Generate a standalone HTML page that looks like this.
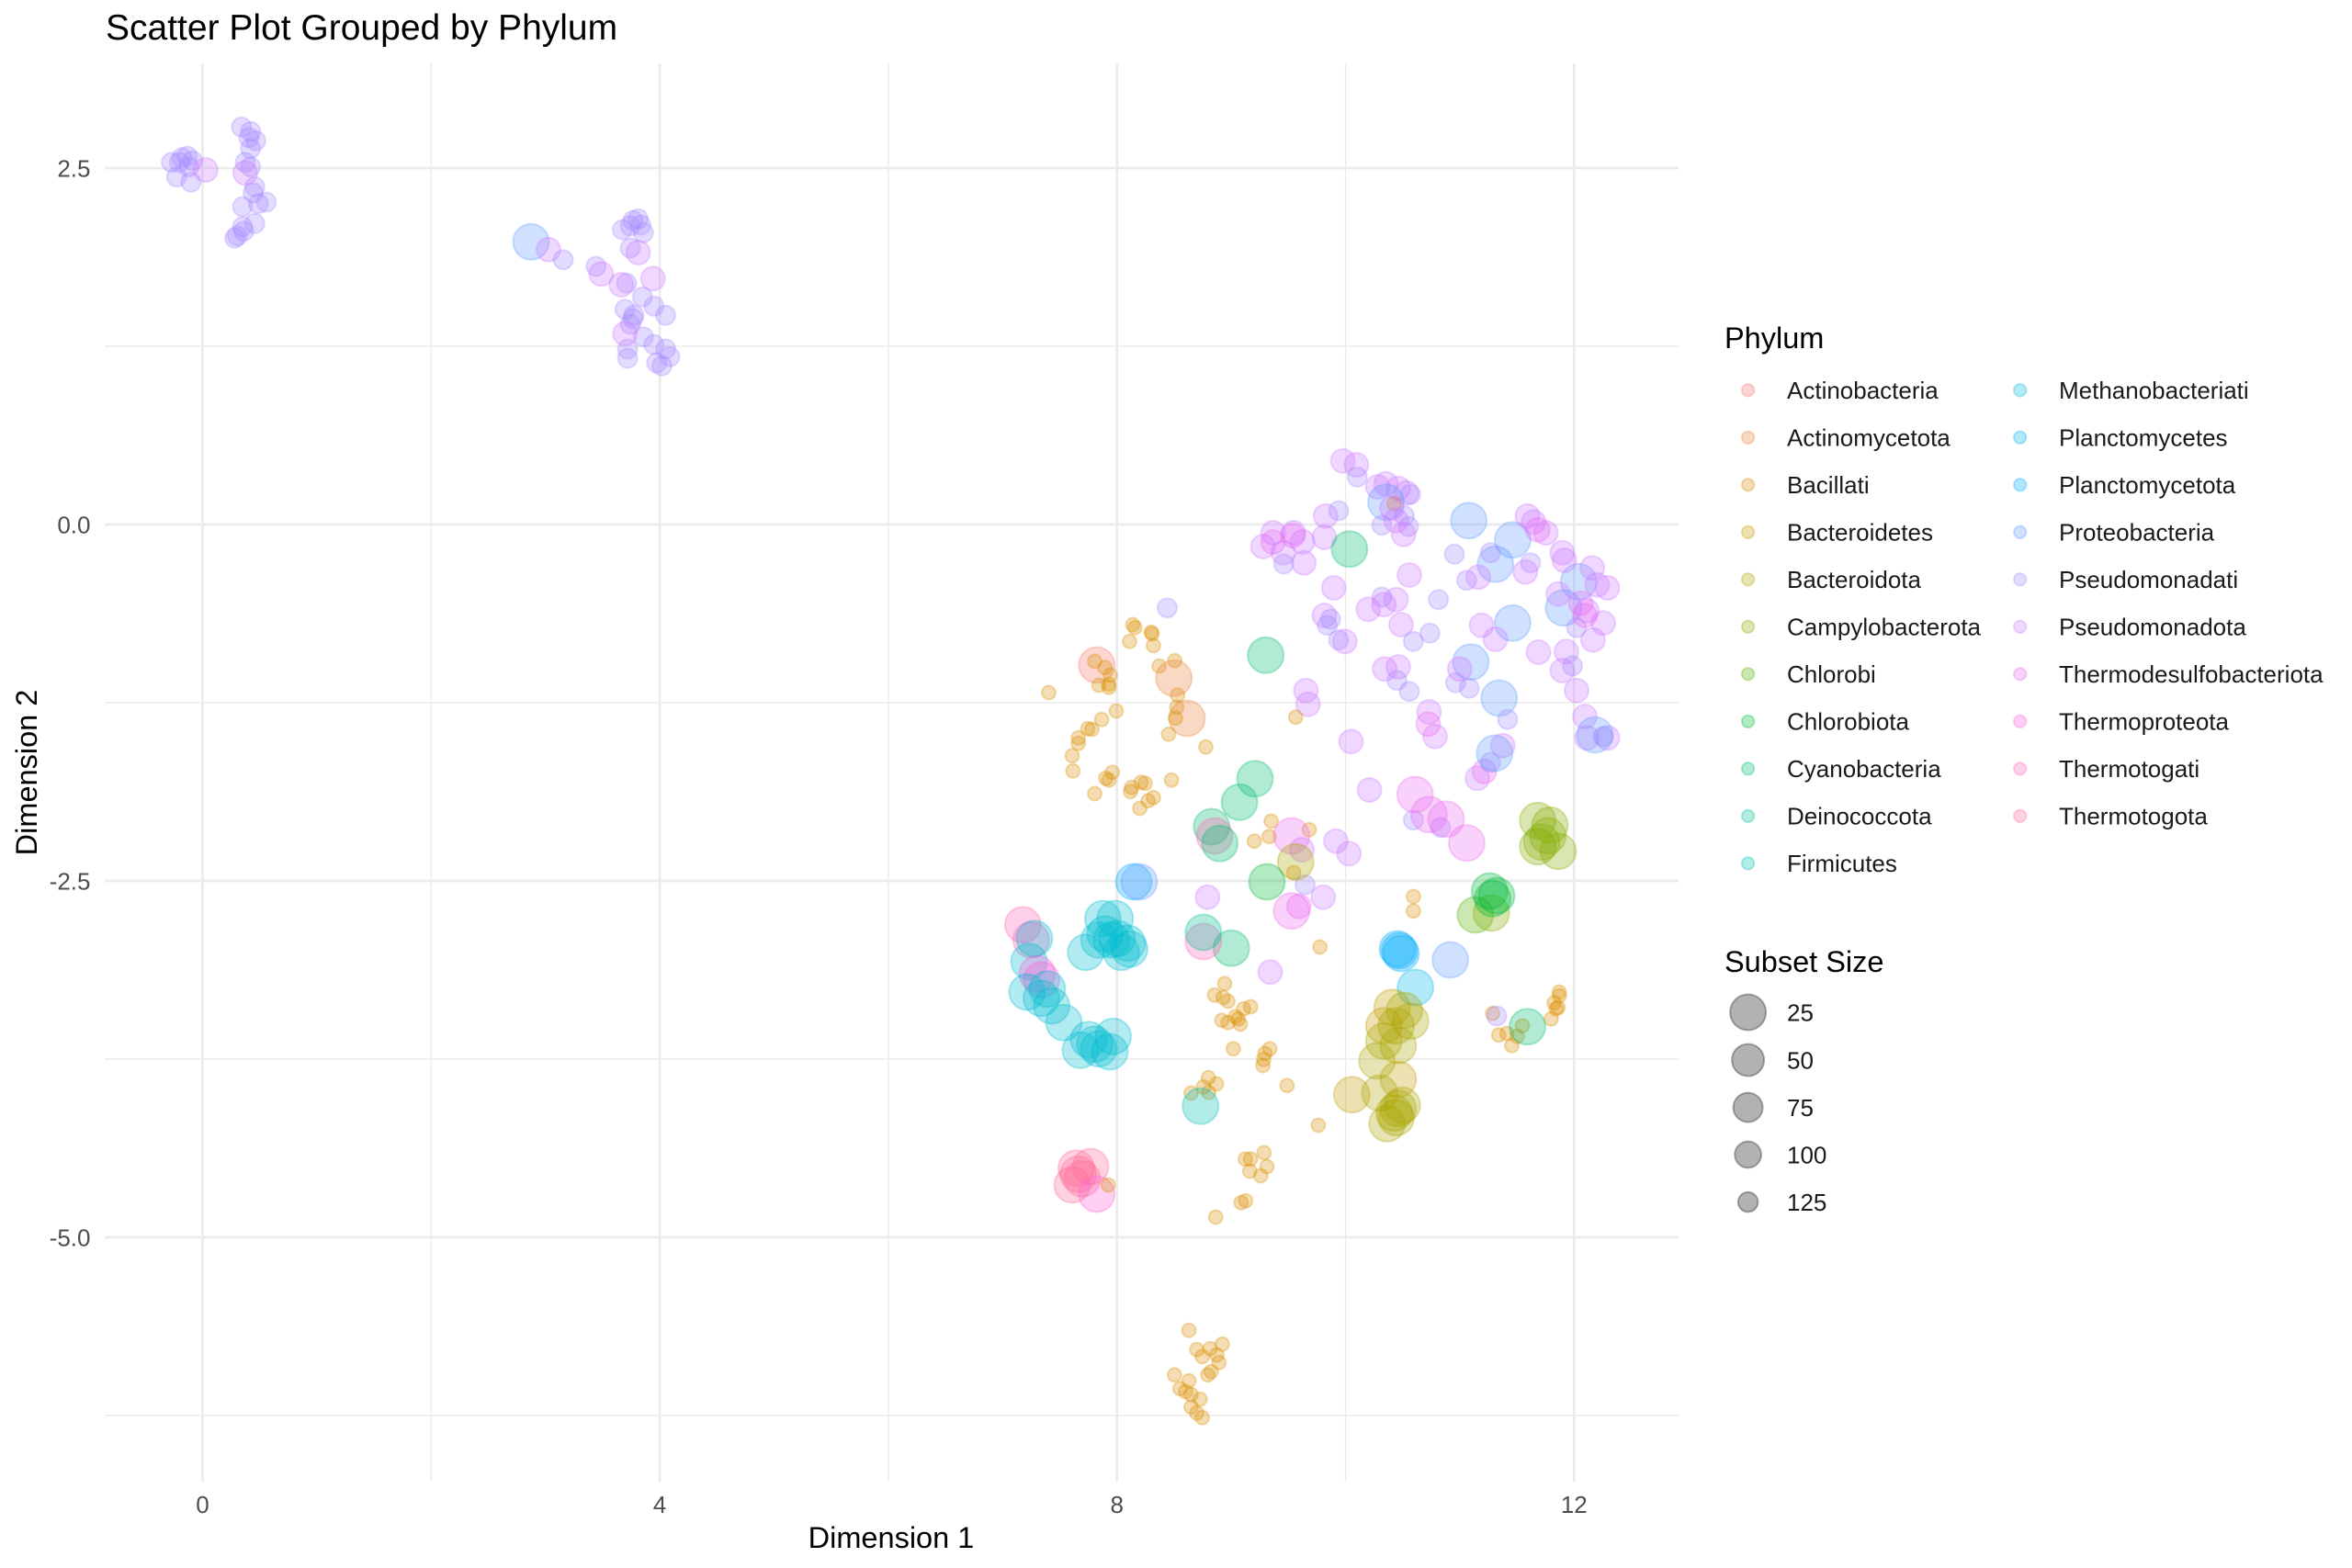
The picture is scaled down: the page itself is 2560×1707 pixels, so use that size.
<!DOCTYPE html>
<html><head><meta charset="utf-8"><style>
html,body{margin:0;padding:0;background:#fff;}
svg{display:block;font-family:"Liberation Sans",Arial,sans-serif;}
circle{fill-opacity:.3;stroke-opacity:.3;stroke-width:2}
.a{fill:#F8766D;stroke:#F8766D}.b{fill:#EC8239;stroke:#EC8239}.c{fill:#DB8E00;stroke:#DB8E00}
.d{fill:#C49A00;stroke:#C49A00}.e{fill:#A9A400;stroke:#A9A400}.f{fill:#86AC00;stroke:#86AC00}
.g{fill:#53B400;stroke:#53B400}.h{fill:#00BA38;stroke:#00BA38}.i{fill:#00BE6C;stroke:#00BE6C}
.j{fill:#00C094;stroke:#00C094}.k{fill:#00C0B5;stroke:#00C0B5}.l{fill:#00BDD2;stroke:#00BDD2}
.m{fill:#00B6EB;stroke:#00B6EB}.n{fill:#00ABFD;stroke:#00ABFD}.o{fill:#619CFF;stroke:#619CFF}
.p{fill:#A58AFF;stroke:#A58AFF}.q{fill:#CD79FF;stroke:#CD79FF}.r{fill:#EA6AF1;stroke:#EA6AF1}
.s{fill:#FB61D7;stroke:#FB61D7}.t{fill:#FF63BA;stroke:#FF63BA}.u{fill:#FF6A98;stroke:#FF6A98}
.z{fill:#000;stroke:#000}
.tk{font-size:26px;fill:#4D4D4D}
.lg{font-size:26px;fill:#1A1A1A}
</style></head><body>
<svg width="2560" height="1707" viewBox="0 0 2560 1707" xmlns="http://www.w3.org/2000/svg">
<rect x="0" y="0" width="2560" height="1707" fill="#fff"/>
<!-- minor grid -->
<g stroke="#EBEBEB" stroke-width="1.4">
<line x1="114" x2="1827" y1="377" y2="377"/>
<line x1="114" x2="1827" y1="765" y2="765"/>
<line x1="114" x2="1827" y1="1153" y2="1153"/>
<line x1="114" x2="1827" y1="1541" y2="1541"/>
<line x1="469.3" x2="469.3" y1="69" y2="1613"/>
<line x1="966.9" x2="966.9" y1="69" y2="1613"/>
<line x1="1464.5" x2="1464.5" y1="69" y2="1613"/>
</g>
<!-- major grid -->
<g stroke="#EBEBEB" stroke-width="2.7">
<line x1="114" x2="1827" y1="183" y2="183"/>
<line x1="114" x2="1827" y1="571" y2="571"/>
<line x1="114" x2="1827" y1="959" y2="959"/>
<line x1="114" x2="1827" y1="1347" y2="1347"/>
<line x1="220.5" x2="220.5" y1="69" y2="1613"/>
<line x1="718.1" x2="718.1" y1="69" y2="1613"/>
<line x1="1215.7" x2="1215.7" y1="69" y2="1613"/>
<line x1="1713.3" x2="1713.3" y1="69" y2="1613"/>
</g>
<!-- points -->
<g>
<!-- top-left cluster -->
<circle class="p" cx="198" cy="171.7" r="10.5"/><circle class="p" cx="203.8" cy="170" r="10.5"/><circle class="p" cx="195.2" cy="176.7" r="10.5"/><circle class="p" cx="209.5" cy="175" r="10.5"/><circle class="p" cx="205.5" cy="181.7" r="10.5"/><circle class="p" cx="192.3" cy="192.7" r="10.5"/><circle class="p" cx="207.8" cy="198.3" r="10.5"/><circle class="p" cx="186.6" cy="176.7" r="10.5"/>
<circle class="q" cx="223.9" cy="185" r="13"/>
<circle class="p" cx="262.9" cy="138.3" r="10.5"/><circle class="p" cx="272.7" cy="143.3" r="10.5"/><circle class="p" cx="271" cy="150" r="10.5"/><circle class="p" cx="278.4" cy="153.3" r="10.5"/><circle class="p" cx="272.7" cy="161.7" r="10.5"/><circle class="p" cx="266.9" cy="176.7" r="10.5"/><circle class="p" cx="272.7" cy="181.7" r="10.5"/><circle class="p" cx="277.3" cy="203.3" r="10.5"/><circle class="p" cx="275.5" cy="210" r="10.5"/><circle class="p" cx="281.3" cy="221.7" r="10.5"/><circle class="p" cx="289.9" cy="220" r="10.5"/><circle class="p" cx="264" cy="225" r="10.5"/><circle class="p" cx="277.3" cy="243.3" r="10.5"/><circle class="p" cx="264" cy="246.7" r="10.5"/><circle class="p" cx="258.3" cy="256.7" r="10.5"/><circle class="p" cx="265.2" cy="251.7" r="10.5"/><circle class="p" cx="255.5" cy="259.3" r="10.5"/>
<circle class="q" cx="266.9" cy="188.3" r="13"/>
<!-- second cluster -->
<circle class="o" cx="578" cy="263.3" r="19.5"/>
<circle class="q" cx="597" cy="271.7" r="13"/>
<circle class="p" cx="613" cy="282.7" r="10.5"/><circle class="p" cx="648.7" cy="290" r="10.5"/><circle class="p" cx="682" cy="308.3" r="10.5"/><circle class="p" cx="688.9" cy="240" r="10.5"/><circle class="p" cx="694.6" cy="238.3" r="10.5"/><circle class="p" cx="697.5" cy="245" r="10.5"/><circle class="p" cx="677.4" cy="250" r="10.5"/><circle class="p" cx="700.3" cy="253.3" r="10.5"/><circle class="p" cx="686" cy="246" r="10.5"/><circle class="p" cx="686" cy="270" r="10.5"/><circle class="p" cx="699.2" cy="323.3" r="10.5"/><circle class="p" cx="711.8" cy="333.3" r="10.5"/><circle class="p" cx="724.5" cy="343.3" r="10.5"/><circle class="p" cx="680.3" cy="336.7" r="10.5"/><circle class="p" cx="688.9" cy="346.7" r="10.5"/><circle class="p" cx="686" cy="353" r="10.5"/><circle class="p" cx="690" cy="343" r="10.5"/><circle class="p" cx="700.3" cy="366.7" r="10.5"/><circle class="p" cx="711.8" cy="375" r="10.5"/><circle class="p" cx="724.5" cy="380" r="10.5"/><circle class="p" cx="729" cy="388.3" r="10.5"/><circle class="p" cx="714.7" cy="395" r="10.5"/><circle class="p" cx="720.4" cy="398.3" r="10.5"/><circle class="p" cx="683.1" cy="380" r="10.5"/><circle class="p" cx="683.1" cy="390" r="10.5"/>
<circle class="q" cx="654.4" cy="298.3" r="13"/><circle class="q" cx="676.2" cy="310" r="13"/><circle class="q" cx="694.6" cy="275" r="13"/><circle class="q" cx="710.7" cy="303.3" r="13"/><circle class="q" cx="680.3" cy="363.3" r="13"/>
<!-- upper right cluster -->
<circle class="q" cx="1461.6" cy="501.7" r="13"/><circle class="q" cx="1476.3" cy="506" r="13"/><circle class="p" cx="1477.2" cy="519.3" r="10.5"/><circle class="q" cx="1499.6" cy="530" r="13"/><circle class="q" cx="1508.5" cy="526.7" r="13"/><circle class="q" cx="1521.9" cy="531.7" r="13"/><circle class="q" cx="1530.8" cy="536.7" r="13"/><circle class="p" cx="1535.3" cy="538.3" r="10.5"/>
<circle class="o" cx="1508.5" cy="546.7" r="19.5"/><circle class="c" cx="1517.4" cy="548.3" r="7.5"/>
<circle class="p" cx="1528.6" cy="561.7" r="10.5"/><circle class="p" cx="1504" cy="571.7" r="10.5"/><circle class="p" cx="1533" cy="573.3" r="10.5"/><circle class="q" cx="1527.7" cy="581.7" r="13"/><circle class="q" cx="1519.6" cy="566.7" r="13"/><circle class="q" cx="1515" cy="553" r="13"/>
<circle class="q" cx="1442.9" cy="561.7" r="13"/><circle class="p" cx="1457.1" cy="556" r="10.5"/><circle class="q" cx="1441.5" cy="585" r="13"/><circle class="q" cx="1385.7" cy="580" r="13"/><circle class="q" cx="1374.6" cy="595" r="13"/><circle class="r" cx="1385.7" cy="590" r="13"/><circle class="q" cx="1408" cy="580" r="13"/><circle class="q" cx="1417.9" cy="590" r="13"/><circle class="q" cx="1396.9" cy="601.7" r="13"/><circle class="q" cx="1419.2" cy="612.7" r="13"/><circle class="p" cx="1397.3" cy="614" r="10.5"/><circle class="r" cx="1407" cy="583" r="13"/>
<circle class="i" cx="1468.8" cy="597.7" r="19.5"/>
<circle class="o" cx="1598.7" cy="566.7" r="19.5"/><circle class="o" cx="1646.4" cy="587.7" r="19.5"/><circle class="o" cx="1627.7" cy="614.3" r="19.5"/><circle class="o" cx="1718.3" cy="633.3" r="19.5"/><circle class="o" cx="1701.8" cy="661.7" r="19.5"/><circle class="o" cx="1646.4" cy="678.3" r="19.5"/><circle class="o" cx="1600.9" cy="720.7" r="19.5"/><circle class="o" cx="1631.7" cy="760" r="19.5"/>
<circle class="q" cx="1662.5" cy="561.7" r="13"/><circle class="q" cx="1669.2" cy="568.3" r="13"/><circle class="q" cx="1682.6" cy="580" r="13"/><circle class="r" cx="1673.7" cy="576.7" r="13"/><circle class="q" cx="1700.4" cy="601.7" r="13"/><circle class="q" cx="1702.7" cy="610" r="13"/><circle class="p" cx="1666" cy="612.7" r="10.5"/><circle class="q" cx="1660.3" cy="622.7" r="13"/><circle class="q" cx="1733" cy="618.3" r="13"/><circle class="q" cx="1749.6" cy="640" r="13"/><circle class="q" cx="1738.4" cy="636.7" r="13"/><circle class="q" cx="1696" cy="646.7" r="13"/><circle class="r" cx="1720.5" cy="656.7" r="13"/><circle class="q" cx="1727.2" cy="665" r="13"/><circle class="q" cx="1745" cy="678.3" r="13"/><circle class="q" cx="1733.9" cy="696.7" r="13"/><circle class="p" cx="1716" cy="683.3" r="10.5"/><circle class="r" cx="1725" cy="670" r="13"/>
<circle class="p" cx="1596.4" cy="631.7" r="10.5"/><circle class="q" cx="1609" cy="628.3" r="13"/><circle class="p" cx="1622.3" cy="601.7" r="10.5"/><circle class="p" cx="1583" cy="603.3" r="10.5"/><circle class="q" cx="1534" cy="626" r="13"/><circle class="q" cx="1451.8" cy="640" r="13"/><circle class="p" cx="1565.6" cy="652.7" r="10.5"/><circle class="q" cx="1519.6" cy="652.7" r="13"/><circle class="p" cx="1504" cy="650" r="10.5"/><circle class="q" cx="1506.3" cy="658.3" r="13"/><circle class="q" cx="1489.3" cy="663.3" r="13"/><circle class="q" cx="1525" cy="680" r="13"/><circle class="p" cx="1556.3" cy="689.3" r="10.5"/><circle class="p" cx="1538.4" cy="698.3" r="10.5"/><circle class="q" cx="1441.5" cy="670" r="13"/><circle class="p" cx="1448.2" cy="674" r="10.5"/><circle class="p" cx="1444.6" cy="680.7" r="10.5"/><circle class="q" cx="1463.8" cy="698.3" r="13"/><circle class="p" cx="1457" cy="696.7" r="10.5"/><circle class="q" cx="1612.5" cy="680.7" r="13"/><circle class="q" cx="1627.7" cy="696" r="13"/><circle class="q" cx="1674.5" cy="710" r="13"/><circle class="q" cx="1705" cy="709.3" r="13"/><circle class="q" cx="1700.4" cy="730" r="13"/><circle class="p" cx="1711.6" cy="725" r="10.5"/><circle class="q" cx="1716" cy="751.7" r="13"/><circle class="q" cx="1507.1" cy="728.3" r="13"/><circle class="q" cx="1521.9" cy="726" r="13"/><circle class="p" cx="1520.5" cy="740.7" r="10.5"/><circle class="p" cx="1533.9" cy="752.7" r="10.5"/><circle class="p" cx="1584.4" cy="743.3" r="10.5"/><circle class="p" cx="1599.1" cy="749.3" r="10.5"/><circle class="q" cx="1588.8" cy="728.3" r="13"/><circle class="q" cx="1421.4" cy="751.7" r="13"/><circle class="q" cx="1423.7" cy="766.7" r="13"/><circle class="q" cx="1555.4" cy="775" r="13"/><circle class="q" cx="1725" cy="780" r="13"/>
<circle class="p" cx="1270.5" cy="661.7" r="10.5"/>
<!-- upper orange group -->
<circle class="a" cx="1193.75" cy="724" r="19.5"/>
<circle class="c" cx="1191.5" cy="720" r="7.5"/><circle class="c" cx="1202.7" cy="726.7" r="7.5"/><circle class="c" cx="1208.5" cy="735" r="7.5"/><circle class="c" cx="1196" cy="746" r="7.5"/><circle class="c" cx="1207" cy="748.3" r="7.5"/><circle class="c" cx="1207" cy="745" r="7.5"/><circle class="c" cx="1233" cy="680" r="7.5"/><circle class="c" cx="1235.3" cy="683.3" r="7.5"/><circle class="c" cx="1253" cy="688.3" r="7.5"/><circle class="c" cx="1254" cy="690" r="7.5"/><circle class="c" cx="1229.5" cy="698.3" r="7.5"/><circle class="c" cx="1255.4" cy="702.7" r="7.5"/><circle class="c" cx="1278.6" cy="719.3" r="7.5"/><circle class="c" cx="1261.6" cy="725" r="7.5"/><circle class="c" cx="1141.5" cy="754" r="7.5"/><circle class="c" cx="1281.7" cy="756.7" r="7.5"/><circle class="c" cx="1280.8" cy="770" r="7.5"/><circle class="c" cx="1215" cy="774" r="7.5"/>
<circle class="b" cx="1277.7" cy="738.3" r="19.5"/><circle class="b" cx="1292" cy="782" r="19.5"/>
<circle class="i" cx="1377.7" cy="713.3" r="19.5"/>
<circle class="c" cx="1199.1" cy="783.3" r="7.5"/><circle class="c" cx="1184" cy="793.3" r="7.5"/><circle class="c" cx="1188.4" cy="794" r="7.5"/><circle class="c" cx="1173.7" cy="803.3" r="7.5"/><circle class="c" cx="1173.7" cy="809.3" r="7.5"/><circle class="c" cx="1167" cy="822.7" r="7.5"/><circle class="c" cx="1167.9" cy="839.3" r="7.5"/><circle class="c" cx="1210.7" cy="840.7" r="7.5"/><circle class="c" cx="1203.6" cy="847.3" r="7.5"/><circle class="c" cx="1207" cy="849.3" r="7.5"/><circle class="c" cx="1191.5" cy="864" r="7.5"/><circle class="c" cx="1231.7" cy="857.3" r="7.5"/><circle class="c" cx="1230.4" cy="861.7" r="7.5"/><circle class="c" cx="1242" cy="851.7" r="7.5"/><circle class="c" cx="1246.4" cy="852.7" r="7.5"/><circle class="c" cx="1255.4" cy="868.3" r="7.5"/><circle class="c" cx="1249.6" cy="871.7" r="7.5"/><circle class="c" cx="1240.6" cy="880" r="7.5"/><circle class="c" cx="1275" cy="849.3" r="7.5"/><circle class="c" cx="1271.9" cy="799.3" r="7.5"/><circle class="c" cx="1279.5" cy="781.7" r="7.5"/><circle class="c" cx="1312.5" cy="813.3" r="7.5"/><circle class="c" cx="1410.3" cy="780.7" r="7.5"/><circle class="c" cx="1383.5" cy="894" r="7.5"/><circle class="c" cx="1425" cy="903.3" r="7.5"/><circle class="c" cx="1365.2" cy="915.7" r="7.5"/><circle class="c" cx="1381.3" cy="910.7" r="7.5"/><circle class="c" cx="1408" cy="950" r="7.5"/><circle class="c" cx="1538.4" cy="976" r="7.5"/><circle class="c" cx="1538.4" cy="991.7" r="7.5"/><circle class="c" cx="1436.6" cy="1031" r="7.5"/><circle class="c" cx="1333" cy="1070.7" r="7.5"/><circle class="c" cx="1697" cy="1080" r="7.5"/>
<!-- middle -->
<circle class="q" cx="1562" cy="801.7" r="13"/><circle class="q" cx="1470.5" cy="807.3" r="13"/><circle class="q" cx="1490.6" cy="860" r="13"/><circle class="q" cx="1727.2" cy="803.3" r="13"/><circle class="q" cx="1749.6" cy="803.3" r="13"/><circle class="q" cx="1635.7" cy="811.7" r="13"/><circle class="q" cx="1608" cy="847.3" r="13"/><circle class="q" cx="1454" cy="915.7" r="13"/><circle class="q" cx="1468.3" cy="929.3" r="13"/><circle class="q" cx="1314.3" cy="976.7" r="13"/><circle class="q" cx="1440.2" cy="976.7" r="13"/><circle class="q" cx="1382.6" cy="1058.3" r="13"/><circle class="q" cx="1417" cy="925" r="13"/>
<circle class="r" cx="1554.5" cy="788.3" r="13"/><circle class="r" cx="1615.6" cy="840" r="13"/><circle class="r" cx="1413.8" cy="986.7" r="13"/>
<circle class="p" cx="1641" cy="783.3" r="10.5"/><circle class="p" cx="1745" cy="801.7" r="10.5"/><circle class="p" cx="1622.3" cy="830" r="10.5"/><circle class="p" cx="1538.4" cy="892.7" r="10.5"/><circle class="p" cx="1567.9" cy="900.7" r="10.5"/><circle class="p" cx="1420.5" cy="963.3" r="10.5"/>
<circle class="o" cx="1736" cy="800" r="19.5"/><circle class="o" cx="1626.8" cy="820" r="19.5"/>
<circle class="r" cx="1540.2" cy="865" r="19.5"/><circle class="r" cx="1555.4" cy="886.7" r="19.5"/><circle class="r" cx="1574.1" cy="891.7" r="19.5"/><circle class="r" cx="1596.4" cy="917.7" r="19.5"/><circle class="r" cx="1405.8" cy="910" r="19.5"/><circle class="r" cx="1405.8" cy="991.7" r="19.5"/>
<circle class="i" cx="1366" cy="847.7" r="19.5"/><circle class="i" cx="1349.1" cy="873.3" r="19.5"/><circle class="i" cx="1318.75" cy="900" r="19.5"/><circle class="t" cx="1322" cy="910" r="19.5"/><circle class="i" cx="1327.7" cy="918.3" r="19.5"/><circle class="i" cx="1340.2" cy="1032.3" r="19.5"/>
<circle class="t" cx="1309.8" cy="1025" r="19.5"/><circle class="j" cx="1309.8" cy="1015" r="19.5"/>
<circle class="e" cx="1410.3" cy="938.3" r="19.5"/>
<circle class="h" cx="1379" cy="960" r="19.5"/>
<circle class="g" cx="1605.8" cy="996" r="19.5"/><circle class="f" cx="1623.2" cy="994" r="19.5"/>
<circle class="h" cx="1621.4" cy="970" r="19.5"/><circle class="h" cx="1624.6" cy="978.3" r="19.5"/><circle class="h" cx="1629" cy="975" r="19.5"/>
<circle class="f" cx="1673.7" cy="893.3" r="19.5"/><circle class="f" cx="1687" cy="898.3" r="19.5"/><circle class="f" cx="1678.1" cy="916.7" r="19.5"/><circle class="f" cx="1673.7" cy="921.7" r="19.5"/><circle class="f" cx="1696" cy="926.7" r="19.5"/><circle class="f" cx="1684.8" cy="910" r="19.5"/>
<circle class="n" cx="1523.2" cy="1035" r="19.5"/><circle class="n" cx="1521" cy="1033" r="19.5"/><circle class="n" cx="1525" cy="1038" r="19.5"/>
<circle class="o" cx="1578.6" cy="1045" r="19.5"/>
<circle class="m" cx="1540.6" cy="1075" r="19.5"/>
<circle class="n" cx="1234" cy="960" r="19.5"/><circle class="o" cx="1240" cy="960" r="19.5"/>
<!-- cyan cluster -->
<circle class="l" cx="1200.4" cy="1000" r="19.5"/><circle class="l" cx="1213.8" cy="1000" r="19.5"/><circle class="l" cx="1202.7" cy="1016.7" r="19.5"/><circle class="l" cx="1196" cy="1023.3" r="19.5"/><circle class="l" cx="1216" cy="1021.7" r="19.5"/><circle class="l" cx="1227.2" cy="1026.7" r="19.5"/><circle class="l" cx="1229.5" cy="1033.3" r="19.5"/><circle class="l" cx="1181.7" cy="1036.7" r="19.5"/><circle class="l" cx="1220.5" cy="1036.7" r="19.5"/><circle class="l" cx="1209.4" cy="1023.3" r="19.5"/>
<circle class="t" cx="1113.4" cy="1006.7" r="19.5"/><circle class="t" cx="1122.3" cy="1023.3" r="19.5"/>
<circle class="l" cx="1125.9" cy="1021.7" r="19.5"/><circle class="l" cx="1120" cy="1046.7" r="19.5"/>
<circle class="s" cx="1129" cy="1060" r="19.5"/><circle class="s" cx="1133.5" cy="1066.7" r="19.5"/>
<circle class="l" cx="1140" cy="1076.7" r="19.5"/><circle class="l" cx="1133.5" cy="1086.7" r="19.5"/><circle class="l" cx="1144.6" cy="1095" r="19.5"/><circle class="l" cx="1158" cy="1113.3" r="19.5"/><circle class="l" cx="1184.8" cy="1131.7" r="19.5"/><circle class="l" cx="1175.9" cy="1143.3" r="19.5"/><circle class="l" cx="1191.5" cy="1136.7" r="19.5"/><circle class="l" cx="1211.6" cy="1128.3" r="19.5"/><circle class="l" cx="1208" cy="1145" r="19.5"/><circle class="l" cx="1196" cy="1141.7" r="19.5"/><circle class="l" cx="1117.9" cy="1080" r="19.5"/>
<!-- pink cluster -->
<circle class="u" cx="1173.7" cy="1278.3" r="19.5"/><circle class="u" cx="1187" cy="1270" r="19.5"/><circle class="u" cx="1167" cy="1290" r="19.5"/><circle class="u" cx="1178" cy="1283.3" r="19.5"/><circle class="u" cx="1171.4" cy="1271.7" r="19.5"/>
<circle class="s" cx="1193.75" cy="1300" r="19.5"/>
<circle class="c" cx="1206.25" cy="1290" r="7.5"/>
<!-- lower orange -->
<circle class="c" cx="1321.9" cy="1083.3" r="7.5"/><circle class="c" cx="1331.25" cy="1086" r="7.5"/><circle class="c" cx="1336.6" cy="1090" r="7.5"/><circle class="c" cx="1353.6" cy="1098.3" r="7.5"/><circle class="c" cx="1361.2" cy="1096" r="7.5"/><circle class="c" cx="1329.9" cy="1110.7" r="7.5"/><circle class="c" cx="1336.6" cy="1113.3" r="7.5"/><circle class="c" cx="1344.6" cy="1106.7" r="7.5"/><circle class="c" cx="1350" cy="1115" r="7.5"/><circle class="c" cx="1347.8" cy="1109.3" r="7.5"/><circle class="c" cx="1342.4" cy="1141.7" r="7.5"/><circle class="c" cx="1382.1" cy="1141.7" r="7.5"/><circle class="c" cx="1376.8" cy="1146.7" r="7.5"/><circle class="c" cx="1375.4" cy="1153.3" r="7.5"/><circle class="c" cx="1374.6" cy="1160" r="7.5"/><circle class="c" cx="1315.2" cy="1173.3" r="7.5"/><circle class="c" cx="1324.1" cy="1180" r="7.5"/><circle class="c" cx="1309.8" cy="1183.3" r="7.5"/><circle class="c" cx="1296.4" cy="1190" r="7.5"/><circle class="c" cx="1315.6" cy="1189.3" r="7.5"/><circle class="c" cx="1400.9" cy="1181.7" r="7.5"/><circle class="c" cx="1434.8" cy="1225" r="7.5"/><circle class="c" cx="1375.9" cy="1255" r="7.5"/><circle class="c" cx="1355.4" cy="1261.7" r="7.5"/><circle class="c" cx="1361.2" cy="1261.7" r="7.5"/><circle class="c" cx="1379" cy="1270" r="7.5"/><circle class="c" cx="1360.3" cy="1275" r="7.5"/><circle class="c" cx="1372.3" cy="1280" r="7.5"/><circle class="c" cx="1350.9" cy="1309.3" r="7.5"/><circle class="c" cx="1355.8" cy="1307.3" r="7.5"/><circle class="c" cx="1323.2" cy="1325" r="7.5"/>
<circle class="c" cx="1624.6" cy="1103.3" r="7.5"/><circle class="c" cx="1631.25" cy="1126.7" r="7.5"/><circle class="c" cx="1640.2" cy="1125" r="7.5"/><circle class="c" cx="1645.5" cy="1138.3" r="7.5"/><circle class="c" cx="1651.3" cy="1128.3" r="7.5"/><circle class="c" cx="1657" cy="1116.7" r="7.5"/><circle class="c" cx="1697.3" cy="1084" r="7.5"/><circle class="c" cx="1691.5" cy="1091.7" r="7.5"/><circle class="c" cx="1693.75" cy="1098.3" r="7.5"/><circle class="c" cx="1688.4" cy="1109.3" r="7.5"/><circle class="c" cx="1696" cy="1096.7" r="7.5"/>
<circle class="k" cx="1306.7" cy="1204.3" r="19.5"/>
<circle class="i" cx="1662.5" cy="1117.7" r="19.5"/>
<circle class="p" cx="1629" cy="1106" r="10.5"/>
<circle class="d" cx="1515.2" cy="1096.7" r="19.5"/><circle class="d" cx="1471.4" cy="1191.7" r="19.5"/><circle class="d" cx="1506.25" cy="1116.7" r="19.5"/><circle class="d" cx="1521.9" cy="1175" r="19.5"/>
<circle class="e" cx="1528.6" cy="1100" r="19.5"/><circle class="e" cx="1535.3" cy="1111.7" r="19.5"/><circle class="e" cx="1519.6" cy="1116.7" r="19.5"/><circle class="e" cx="1506.25" cy="1133.3" r="19.5"/><circle class="e" cx="1521.9" cy="1138.3" r="19.5"/><circle class="e" cx="1498.7" cy="1155" r="19.5"/><circle class="e" cx="1501.8" cy="1190" r="19.5"/><circle class="e" cx="1521.9" cy="1206.7" r="19.5"/><circle class="e" cx="1517.4" cy="1211.7" r="19.5"/><circle class="e" cx="1519.6" cy="1216.7" r="19.5"/><circle class="e" cx="1509.8" cy="1223.3" r="19.5"/><circle class="e" cx="1526.3" cy="1203.3" r="19.5"/>
<!-- bottom cluster -->
<circle class="c" cx="1294" cy="1448.3" r="7.5"/><circle class="c" cx="1330.4" cy="1463.3" r="7.5"/><circle class="c" cx="1302.6" cy="1469.3" r="7.5"/><circle class="c" cx="1317" cy="1468.3" r="7.5"/><circle class="c" cx="1308.6" cy="1476.7" r="7.5"/><circle class="c" cx="1324.4" cy="1475" r="7.5"/><circle class="c" cx="1326.8" cy="1483.3" r="7.5"/><circle class="c" cx="1314.6" cy="1496.7" r="7.5"/><circle class="c" cx="1318.3" cy="1493.3" r="7.5"/><circle class="c" cx="1278.3" cy="1496.7" r="7.5"/><circle class="c" cx="1294" cy="1503.3" r="7.5"/><circle class="c" cx="1284.4" cy="1511.7" r="7.5"/><circle class="c" cx="1296.5" cy="1518.3" r="7.5"/><circle class="c" cx="1306.2" cy="1523.3" r="7.5"/><circle class="c" cx="1296.5" cy="1531.7" r="7.5"/><circle class="c" cx="1302.6" cy="1538.3" r="7.5"/><circle class="c" cx="1308.6" cy="1543.3" r="7.5"/><circle class="c" cx="1290.5" cy="1515" r="7.5"/>
</g>
<!-- axes text -->
<text x="115" y="43" font-size="39" fill="#000">Scatter Plot Grouped by Phylum</text>
<g class="tk" text-anchor="end">
<text x="98.5" y="192.3">2.5</text>
<text x="98.5" y="580.3">0.0</text>
<text x="98.5" y="968.3">-2.5</text>
<text x="98.5" y="1356.3">-5.0</text>
</g>
<g class="tk" text-anchor="middle">
<text x="220.5" y="1647">0</text>
<text x="718.1" y="1647">4</text>
<text x="1215.7" y="1647">8</text>
<text x="1713.3" y="1647">12</text>
</g>
<text x="970" y="1685" font-size="32.5" text-anchor="middle" fill="#000">Dimension 1</text>
<text transform="translate(40,841) rotate(-90)" font-size="32.5" text-anchor="middle" fill="#000">Dimension 2</text>
<!-- legend -->
<text x="1877" y="379" font-size="32.5" fill="#000">Phylum</text>
<g>
<circle class="a" cx="1902.6" cy="424.8" r="6.7"/><circle class="b" cx="1902.6" cy="476.3" r="6.7"/><circle class="c" cx="1902.6" cy="527.8" r="6.7"/><circle class="d" cx="1902.6" cy="579.3" r="6.7"/><circle class="e" cx="1902.6" cy="630.8" r="6.7"/><circle class="f" cx="1902.6" cy="682.3" r="6.7"/><circle class="g" cx="1902.6" cy="733.8" r="6.7"/><circle class="h" cx="1902.6" cy="785.3" r="6.7"/><circle class="i" cx="1902.6" cy="836.8" r="6.7"/><circle class="j" cx="1902.6" cy="888.3" r="6.7"/><circle class="k" cx="1902.6" cy="939.8" r="6.7"/>
<circle class="l" cx="2198.7" cy="424.8" r="6.7"/><circle class="m" cx="2198.7" cy="476.3" r="6.7"/><circle class="n" cx="2198.7" cy="527.8" r="6.7"/><circle class="o" cx="2198.7" cy="579.3" r="6.7"/><circle class="p" cx="2198.7" cy="630.8" r="6.7"/><circle class="q" cx="2198.7" cy="682.3" r="6.7"/><circle class="r" cx="2198.7" cy="733.8" r="6.7"/><circle class="s" cx="2198.7" cy="785.3" r="6.7"/><circle class="t" cx="2198.7" cy="836.8" r="6.7"/><circle class="u" cx="2198.7" cy="888.3" r="6.7"/>
</g>
<g class="lg">
<text x="1945" y="434">Actinobacteria</text>
<text x="1945" y="485.5">Actinomycetota</text>
<text x="1945" y="537">Bacillati</text>
<text x="1945" y="588.5">Bacteroidetes</text>
<text x="1945" y="640">Bacteroidota</text>
<text x="1945" y="691.5">Campylobacterota</text>
<text x="1945" y="743">Chlorobi</text>
<text x="1945" y="794.5">Chlorobiota</text>
<text x="1945" y="846">Cyanobacteria</text>
<text x="1945" y="897.5">Deinococcota</text>
<text x="1945" y="949">Firmicutes</text>
<text x="2241" y="434">Methanobacteriati</text>
<text x="2241" y="485.5">Planctomycetes</text>
<text x="2241" y="537">Planctomycetota</text>
<text x="2241" y="588.5">Proteobacteria</text>
<text x="2241" y="640">Pseudomonadati</text>
<text x="2241" y="691.5">Pseudomonadota</text>
<text x="2241" y="743">Thermodesulfobacteriota</text>
<text x="2241" y="794.5">Thermoproteota</text>
<text x="2241" y="846">Thermotogati</text>
<text x="2241" y="897.5">Thermotogota</text>
</g>
<text x="1877" y="1058" font-size="32.5" fill="#000">Subset Size</text>
<g>
<circle class="z" cx="1902.6" cy="1102" r="19.5"/>
<circle class="z" cx="1902.6" cy="1154" r="17.5"/>
<circle class="z" cx="1902.6" cy="1205.6" r="16"/>
<circle class="z" cx="1902.6" cy="1257" r="14.4"/>
<circle class="z" cx="1902.6" cy="1308.6" r="10.8"/>
</g>
<g class="lg">
<text x="1945" y="1111.3">25</text>
<text x="1945" y="1163.3">50</text>
<text x="1945" y="1214.9">75</text>
<text x="1945" y="1266.3">100</text>
<text x="1945" y="1317.9">125</text>
</g>
</svg>
</body></html>
